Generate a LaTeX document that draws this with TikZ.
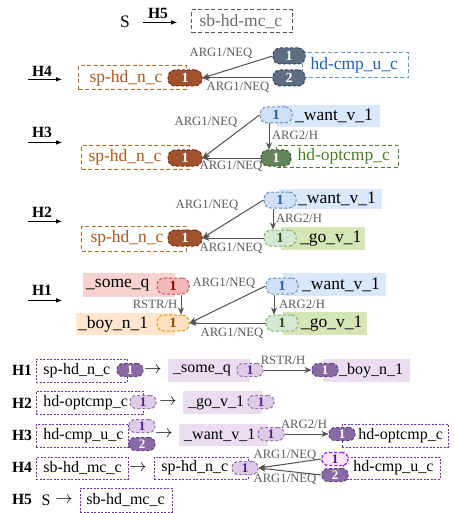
\documentclass[tikz,border=0pt]{standalone}
\usepackage{fontspec}
\setmainfont{Liberation Serif}
\usetikzlibrary{arrows.meta}
\definecolor{gry}{HTML}{5A5A5A}
\definecolor{arrgray}{HTML}{505050}
\definecolor{gryline}{HTML}{555555}
\definecolor{grytxt}{HTML}{6A6A6A}
\definecolor{brn}{HTML}{A0522D}
\definecolor{brnline}{HTML}{6E3414}
\definecolor{brnbox}{HTML}{B46A1E}
\definecolor{brntxt}{HTML}{A8581E}
\definecolor{slate}{HTML}{5D6D82}
\definecolor{slateline}{HTML}{3A4658}
\definecolor{bluebox}{HTML}{5B9BD5}
\definecolor{bluetxt}{HTML}{1F5FAF}
\definecolor{bluefill}{HTML}{DAE8FC}
\definecolor{bluebadge}{HTML}{CFE0F7}
\definecolor{blueline}{HTML}{6C8EBF}
\definecolor{dkgreen}{HTML}{63845A}
\definecolor{dkgreenline}{HTML}{3B5634}
\definecolor{greenbox}{HTML}{4E7D2A}
\definecolor{greenfill}{HTML}{D5E8D4}
\definecolor{greenline}{HTML}{82B366}
\definecolor{greentxt}{HTML}{2D5016}
\definecolor{olivefill}{HTML}{D5E5B5}
\definecolor{redfill}{HTML}{F8D2D0}
\definecolor{redbadge}{HTML}{F4BABA}
\definecolor{redline}{HTML}{C05050}
\definecolor{redtxt}{HTML}{8B0000}
\definecolor{orgfill}{HTML}{FFE6CC}
\definecolor{orgbadge}{HTML}{FFE0C0}
\definecolor{orgline}{HTML}{D79B00}
\definecolor{orgtxt}{HTML}{8B4513}
\definecolor{purp}{HTML}{8A6AA6}
\definecolor{purpline}{HTML}{5E4378}
\definecolor{lilac}{HTML}{EADDF0}
\definecolor{lilacbadge}{HTML}{DDCBE7}
\definecolor{lilacline}{HTML}{9673A6}
\definecolor{purpbox}{HTML}{7030A0}
\definecolor{indigo}{HTML}{4B1A8C}
\definecolor{pinkbadge}{HTML}{FBE5FB}
\definecolor{violet}{HTML}{A020F0}

\begin{document}
\begin{tikzpicture}[x=1pt,y=-1pt,
  bigfont/.style={font=\fontsize{17.5pt}{20pt}\selectfont},
  smallfont/.style={font=\fontsize{16pt}{18pt}\selectfont},
  tbox/.style={anchor=west,inner sep=0pt,align=left},
  pad/.style={execute at begin node={\hspace*{#1}}},
  dbox/.style={tbox,bigfont,draw=#1,dash pattern=on 4pt off 2.5pt,line width=1pt},
  fbox/.style={tbox,bigfont,fill=#1},
  pbox/.style={tbox,smallfont,draw=purpbox,dash pattern=on 2pt off 1.5pt,line width=0.9pt},
  lbox/.style={tbox,smallfont,fill=lilac},
  badge/.style={rounded corners=7pt,minimum width=32pt,minimum height=16pt,inner sep=0pt,
    dash pattern=on 3pt off 2pt,line width=1pt,font=\fontsize{14pt}{14pt}\selectfont\bfseries},
  sbadge/.style={badge,minimum width=26pt,minimum height=13pt,rounded corners=6pt,
    font=\fontsize{13pt}{13pt}\selectfont\bfseries},
  dkbadge/.style={sbadge,fill=purp,draw=purpline,text=white},
  ltbadge/.style={sbadge,fill=lilacbadge,draw=lilacline,text=indigo},
  lbl/.style={text=gry,inner sep=0pt,font=\fontsize{12.7pt}{14pt}\selectfont},
  arr/.style={draw=arrgray,line width=1pt,-{Stealth[length=7pt,width=6pt]}},
  harr/.style={draw=black,line width=0.9pt,-{Latex[length=6pt,width=4.5pt]}},
  hlabel/.style={inner sep=0pt,font=\fontsize{15.6pt}{17pt}\selectfont\bfseries}]
\useasboundingbox (0,0) rectangle (453,513);

% ---- H5
\node[hlabel] (th5) at (158,13) {H5};
\draw[harr] ([xshift=-5pt,yshift=-4pt]th5.south west) -- ([xshift=9pt,yshift=-4pt]th5.south east);
\node[bigfont,inner sep=0pt] (ts) at (125,22) {S};
\node[dbox=gryline,text=grytxt,text width=101pt,minimum height=23pt,pad=8pt] (sbtop) at (191,21.5) {sb-hd-mc\_c};

% ---- H4
\node[hlabel] (th4) at (42,71) {H4};
\draw[harr] ([xshift=-4pt,yshift=-3pt]th4.south west) -- ([xshift=10pt,yshift=-3pt]th4.south east);
\node[dbox=brnbox,text=brntxt,text width=108pt,minimum height=24pt,pad=11pt] (sp4) at (78,78) {sp-hd\_n\_c};
\node[dbox=bluebox,text=bluetxt,text width=106pt,minimum height=25pt,pad=8pt] (cmp4) at (302,65.5) {hd-cmp\_u\_c};
\node[badge,fill=brn,draw=brnline,text=white,minimum width=34pt] (b4) at (185,78) {1};
\node[badge,fill=slate,draw=slateline,text=white] (c41) at (289,56) {1};
\node[badge,fill=slate,draw=slateline,text=white] (c42) at (289,78) {2};
\draw[arr] (c41.west) -- (b4.east);
\draw[arr] (c42.west) -- (b4.east);
\node[lbl] (l41) at (221,53) {ARG1/NEQ};
\node[lbl] (l42) at (238,87) {ARG1/NEQ};

% ---- H3
\node[hlabel] (th3) at (42,132) {H3};
\draw[harr] ([xshift=-4pt,yshift=-5pt]th3.south west) -- ([xshift=10pt,yshift=-5pt]th3.south east);
\node[dbox=brnbox,text=brntxt,text width=108pt,minimum height=23pt,pad=7pt] (sp3) at (81,157.5) {sp-hd\_n\_c};
\node[fbox=bluefill,text width=103pt,minimum height=22pt,pad=18pt] (want3) at (277,116) {\_want\_v\_1};
\node[dbox=greenbox,text=greenbox,text width=122pt,minimum height=21pt,pad=21pt] (opt3) at (276,156.5) {hd-optcmp\_c};
\node[badge,fill=brn,draw=brnline,text=white,minimum width=34pt] (b3) at (185,158) {1};
\node[badge,fill=bluebadge,draw=blueline,text=bluetxt] (w3) at (276,115) {1};
\node[badge,fill=dkgreen,draw=dkgreenline,text=white,minimum width=30pt] (g3) at (276,158) {1};
\draw[arr] (w3.west) -- (b3.east);
\draw[arr] ([xshift=-7pt]w3.south) -- ([xshift=-7pt]g3.north);
\draw[arr] (g3.west) -- (b3.east);
\node[lbl] (l31) at (206,122) {ARG1/NEQ};
\node[lbl] (l32) at (295,135) {ARG2/H};
\node[lbl] (l33) at (231,166) {ARG1/NEQ};

% ---- H2
\node[hlabel] (th2) at (42,212) {H2};
\draw[harr] ([xshift=-4pt,yshift=-4pt]th2.south west) -- ([xshift=10pt,yshift=-4pt]th2.south east);
\node[dbox=brnbox,text=brntxt,text width=105pt,minimum height=25pt,pad=9pt] (sp2) at (81,238.5) {sp-hd\_n\_c};
\node[fbox=bluefill,text width=103pt,minimum height=20pt,pad=19pt] (want2) at (279,199) {\_want\_v\_1};
\node[fbox=olivefill,text width=84pt,minimum height=23pt,pad=19pt] (go2) at (281,238.5) {\_go\_v\_1};
\node[badge,fill=brn,draw=brnline,text=white,minimum width=34pt] (b2) at (185,238) {1};
\node[badge,fill=bluebadge,draw=blueline,text=bluetxt] (w2) at (280,200) {1};
\node[badge,fill=greenfill,draw=greenline,text=greentxt] (g2) at (280,238) {1};
\draw[arr] (w2.west) -- (b2.east);
\draw[arr] ([xshift=-7pt]w2.south) -- ([xshift=-7pt]g2.north);
\draw[arr] (g2.west) -- (b2.east);
\node[lbl] (l21) at (207,205) {ARG1/NEQ};
\node[lbl] (l22) at (299,218) {ARG2/H};
\node[lbl] (l23) at (231,248) {ARG1/NEQ};

% ---- H1
\node[hlabel] (th1) at (42,290) {H1};
\draw[harr] ([xshift=-4pt,yshift=-5pt]th1.south west) -- ([xshift=10pt,yshift=-5pt]th1.south east);
\node[fbox=redfill,text width=92pt,minimum height=24pt,pad=3pt] (some1) at (83,285) {\_some\_q};
\node[fbox=orgfill,text width=99pt,minimum height=22pt,pad=2pt] (boy1) at (76,324) {\_boy\_n\_1};
\node[fbox=bluefill,text width=103pt,minimum height=23pt,pad=19pt] (want1) at (283,284.5) {\_want\_v\_1};
\node[fbox=olivefill,text width=84pt,minimum height=23pt,pad=18pt] (go1) at (283,323.5) {\_go\_v\_1};
\node[badge,fill=redbadge,draw=redline,text=redtxt] (s1) at (173,286) {1};
\node[badge,fill=orgbadge,draw=orgline,text=orgtxt] (y1) at (173,323) {1};
\node[badge,fill=bluebadge,draw=blueline,text=bluetxt] (w1) at (282,286) {1};
\node[badge,fill=greenfill,draw=greenline,text=greentxt] (g1) at (282,323) {1};
\draw[arr] ([xshift=8pt]s1.south) -- ([xshift=8pt]y1.north);
\draw[arr] (w1.west) -- (y1.east);
\draw[arr] ([xshift=-8pt]w1.south) -- ([xshift=-8pt]g1.north);
\draw[arr] (g1.west) -- (y1.east);
\node[lbl] (l11) at (155,304) {RSTR/H};
\node[lbl] (l12) at (224,283) {ARG1/NEQ};
\node[lbl] (l13) at (302,304) {ARG2/H};
\node[lbl] (l14) at (232,333) {ARG1/NEQ};

% ---- derivation rules
\node[hlabel] (r1) at (22,370) {H1};
\node[pbox,text width=91pt,minimum height=23pt,pad=7pt] (rsp1) at (36,370.5) {sp-hd\_n\_c};
\node[dkbadge] (rd1) at (130,370) {1};
\node[smallfont,inner sep=0pt] (ra1) at (153,370) {$\rightarrow$};
\node[lbox,text width=82pt,minimum height=23pt,pad=5pt] (rsome) at (168,370.5) {\_some\_q};
\node[ltbadge] (rl1) at (250,370) {1};
\node[lbox,text width=87pt,minimum height=23pt,pad=16pt] (rboy) at (323,370.5) {\_boy\_n\_1};
\node[dkbadge] (rd1b) at (325,370) {1};
\draw[arr] (rl1.east) -- (rd1b.west);
\node[lbl] (rlab1) at (283,360) {RSTR/H};

\node[hlabel] (r2) at (22,403) {H2};
\node[pbox,text width=107pt,minimum height=23pt,pad=7pt] (ropt2) at (36,402.5) {hd-optcmp\_c};
\node[ltbadge] (rl2a) at (143,402) {1};
\node[smallfont,inner sep=0pt] (ra2) at (168,402) {$\rightarrow$};
\node[lbox,text width=79pt,minimum height=23pt,pad=5pt] (rgo) at (183,402.5) {\_go\_v\_1};
\node[ltbadge] (rl2b) at (261,402) {1};

\node[hlabel] (r3) at (22,435) {H3};
\node[pbox,text width=92pt,minimum height=23pt,pad=7pt] (rcmp3) at (36,435.5) {hd-cmp\_u\_c};
\node[ltbadge] (rl3a) at (142,426) {1};
\node[dkbadge] (rd3a) at (142,444) {2};
\node[smallfont,inner sep=0pt] (ra3) at (164,434) {$\rightarrow$};
\node[lbox,text width=89pt,minimum height=22pt,pad=5pt] (rwant) at (179,435) {\_want\_v\_1};
\node[ltbadge] (rl3b) at (271,434) {1};
\node[pbox,text width=106pt,minimum height=23pt,pad=16pt] (ropt3) at (342,435.5) {hd-optcmp\_c};
\node[dkbadge] (rd3b) at (342,434) {1};
\draw[arr] (rl3b.east) -- (rd3b.west);
\node[lbl] (rlab3) at (304,424) {ARG2/H};

\node[hlabel] (r4) at (22,467) {H4};
\node[pbox,text width=92pt,minimum height=22pt,pad=7pt] (rsb4) at (36,468) {sb-hd\_mc\_c};
\node[smallfont,inner sep=0pt] (ra4) at (138,468) {$\rightarrow$};
\node[pbox,text width=94pt,minimum height=22pt,pad=7pt] (rsp4) at (154,468) {sp-hd\_n\_c};
\node[ltbadge] (rl4) at (245,468) {1};
\node[pbox,text width=97pt,minimum height=22pt,pad=10pt] (rcmp4) at (343,468) {hd-cmp\_u\_c};
\node[sbadge,fill=pinkbadge,draw=violet,text=indigo,line width=1.3pt] (rp4) at (335,459) {1};
\node[dkbadge] (rd4) at (335,475) {2};
\draw[arr] (rp4.west) -- (rl4.east);
\draw[arr] (rd4.west) -- (rl4.east);
\node[lbl] (rlab4a) at (285,455) {ARG1/NEQ};
\node[lbl] (rlab4b) at (285,479) {ARG1/NEQ};

\node[hlabel] (r5) at (22,499) {H5};
\node[smallfont,inner sep=0pt] (rs5) at (46,500) {S};
\node[smallfont,inner sep=0pt] (ra5) at (64,500) {$\rightarrow$};
\node[pbox,text width=92pt,minimum height=24pt,pad=6pt] (rsb5) at (80,500) {sb-hd\_mc\_c};
\end{tikzpicture}
\end{document}
